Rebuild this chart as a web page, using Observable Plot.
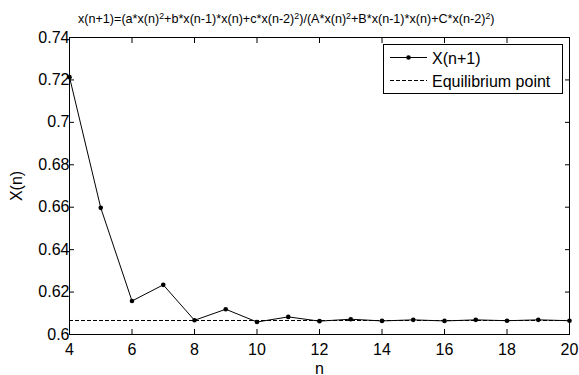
<!DOCTYPE html>
<html><head><meta charset="utf-8">
<script src="https://cdn.jsdelivr.net/npm/d3@7"></script>
<script src="https://cdn.jsdelivr.net/npm/@observablehq/plot@0.6"></script>
<style>body{margin:0;background:#fff}svg{font-family:"Liberation Sans",Arial,sans-serif}</style>
</head><body><div id="chart"></div>
<script>
const n = [4,5,6,7,8,9,10,11,12,13,14,15,16,17,18,19,20];
const xn = [0.7213,0.6597,0.6158,0.6234,0.6067,0.6119,0.6059,0.6083,0.6063,0.6072,0.6064,0.6069,0.6064,0.6069,0.6065,0.6069,0.6065];
const equilibrium = 0.6066;
const xTicks = [4,6,8,10,12,14,16,18,20];
const yTicks = [0.6,0.62,0.64,0.66,0.68,0.7,0.72,0.74];
const yTickLabels = ["0.6","0.62","0.64","0.66","0.68","0.7","0.72","0.74"];
const legendLabels = ["X(n+1)","Equilibrium point"];
const data = n.map((v,i)=>({n:v, x:xn[i]}));

const chart = Plot.plot({
  width:579, height:375,
  marginLeft:69, marginRight:10, marginTop:37, marginBottom:41,
  style:{fontFamily:'"Liberation Sans",Arial,sans-serif', color:"#000"},
  x:{domain:[4,20]},
  y:{domain:[0.6,0.74]},
  marks:[
    Plot.ruleY([equilibrium],{stroke:"#000", strokeWidth:1, strokeDasharray:"4,2"}),
    Plot.line(data,{x:"n", y:"x", stroke:"#000", strokeWidth:1}),
    Plot.dot(data,{x:"n", y:"x", r:2.3, fill:"#000", stroke:"none"}),
    Plot.frame({stroke:"#000", strokeWidth:1}),
    Plot.axisX({ticks:xTicks, anchor:"bottom", tickSize:-5, tickPadding:14, fontSize:16, label:"n", labelAnchor:"center", labelArrow:"none", labelOffset:39}),
    Plot.axisX({ticks:xTicks, anchor:"top", tickSize:-5, tickFormat:()=>"", label:null}),
    Plot.axisY({ticks:yTicks, anchor:"left", tickSize:-5, tickPadding:5, fontSize:16, tickFormat:(d)=>yTickLabels[yTicks.indexOf(d)], label:"X(n)", labelAnchor:"center", labelArrow:"none", labelOffset:59}),
    Plot.axisY({ticks:yTicks, anchor:"right", tickSize:-5, tickFormat:()=>"", label:null})
  ]
});
document.getElementById("chart").appendChild(chart);

const svg = d3.select(chart);
svg.selectAll("text").style("font-size","16px").style("font-family",'"Liberation Sans",Arial,sans-serif');
// Title with superscripts
const title = svg.append("text").attr("x", 78).attr("y", 23).attr("text-anchor","start")
  .style("font-size","12.6px").attr("fill","#000");
const parts = [["x(n+1)=(a*x(n)",0],["2",1],["+b*x(n-1)*x(n)+c*x(n-2)",0],["2",1],[")/(A*x(n)",0],["2",1],["+B*x(n-1)*x(n)+C*x(n-2)",0],["2",1],[")",0]];
parts.forEach(([t,s])=>{
  title.append("tspan").text(t).style("font-size", s? "8.8px":"12.6px").attr("baseline-shift", s? "45%":"0%");
});
// Legend
const lg = svg.append("g").attr("text-anchor","start");
lg.append("rect").attr("x",383.5).attr("y",44.5).attr("width",179).attr("height",49).attr("fill","#fff").attr("stroke","#000");
lg.append("line").attr("x1",390).attr("x2",427).attr("y1",57.5).attr("y2",57.5).attr("stroke","#000");
lg.append("circle").attr("cx",408.5).attr("cy",57.5).attr("r",2.3).attr("fill","#000");
lg.append("line").attr("x1",390).attr("x2",427).attr("y1",80.5).attr("y2",80.5).attr("stroke","#000").attr("stroke-dasharray","4,2");
lg.append("text").attr("x",432).attr("y",63.5).style("font-size","16px").attr("fill","#000").text(legendLabels[0]);
lg.append("text").attr("x",432).attr("y",86.5).style("font-size","16px").attr("fill","#000").text(legendLabels[1]);
</script></body></html>
